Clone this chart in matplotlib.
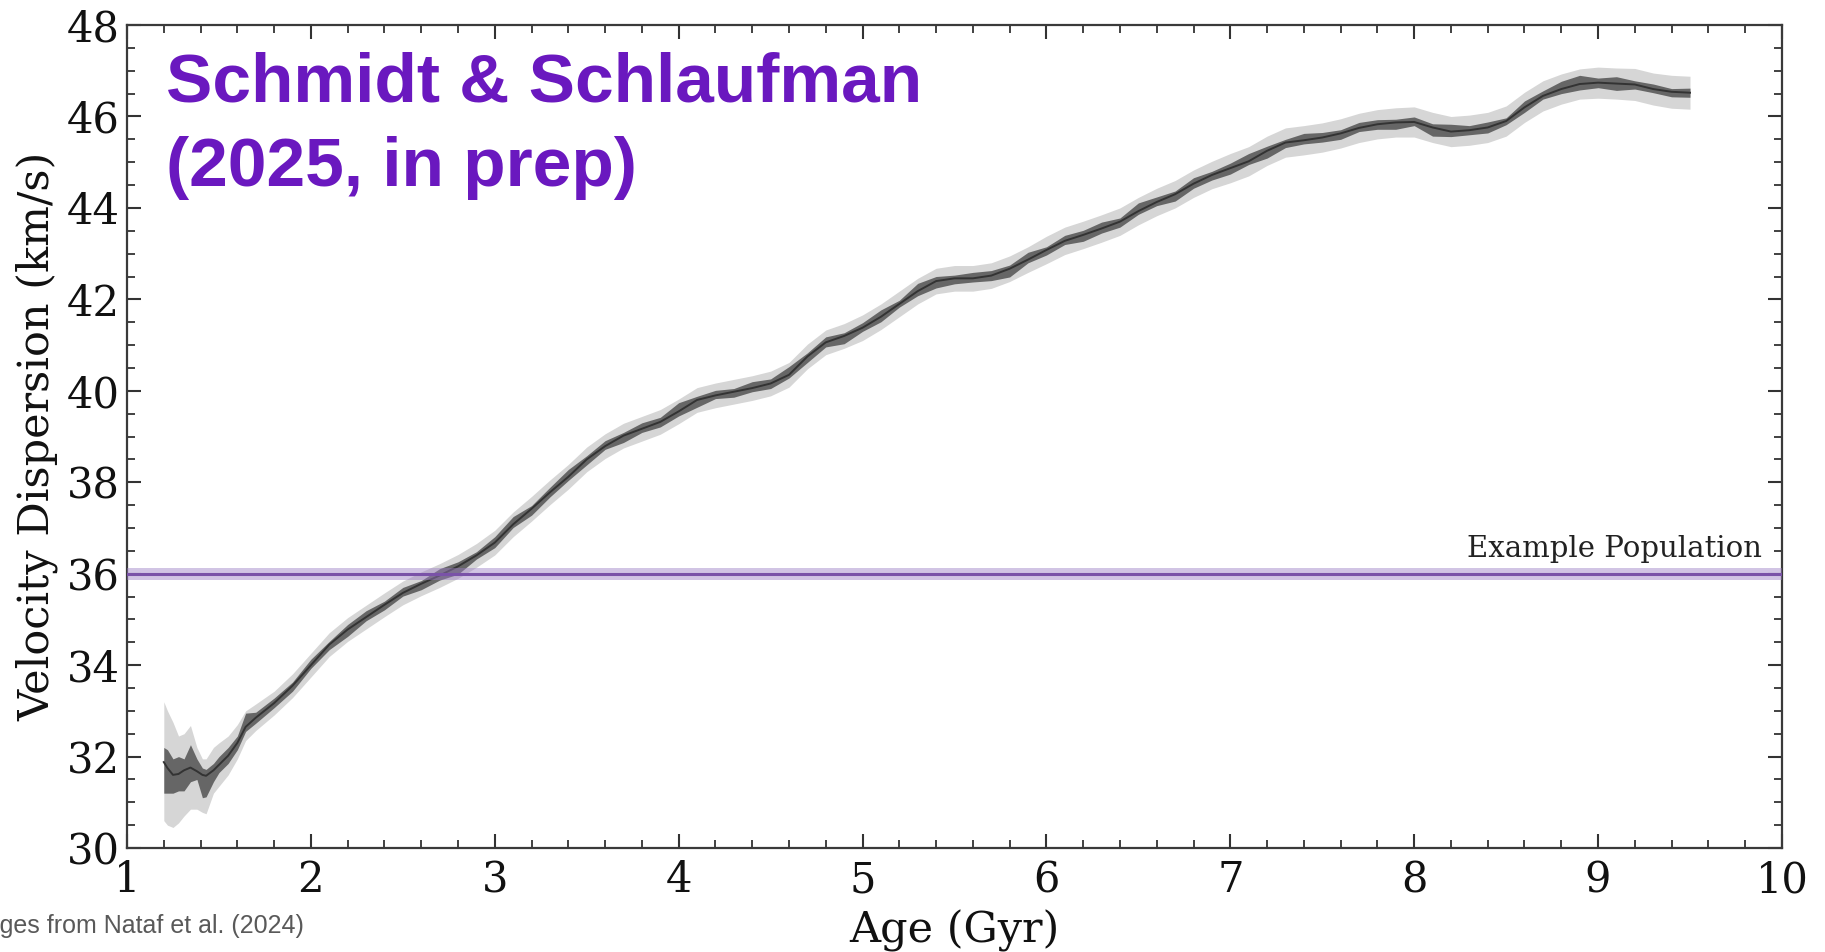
import matplotlib
matplotlib.use("Agg")
import numpy as np
import matplotlib.pyplot as plt
from matplotlib.ticker import MultipleLocator

# age grid (Gyr) and the smoothed velocity dispersion (km/s)
age = [1.20, 1.22, 1.25, 1.28, 1.31, 1.345, 1.38, 1.41, 1.43, 1.47, 1.50, 1.55, 1.60, 1.645, 1.70,
       1.8, 1.9, 2.0, 2.1, 2.2, 2.3, 2.4, 2.5, 2.6, 2.7, 2.8, 2.9, 3.0, 3.1, 3.2, 3.3, 3.4, 3.5,
       3.6, 3.7, 3.8, 3.9, 4.0, 4.1, 4.2, 4.3, 4.4, 4.5, 4.6, 4.7, 4.8, 4.9, 5.0, 5.1, 5.2, 5.3,
       5.4, 5.5, 5.6, 5.7, 5.8, 5.9, 6.0, 6.1, 6.2, 6.3, 6.4, 6.5, 6.6, 6.7, 6.8, 6.9, 7.0, 7.1,
       7.2, 7.3, 7.4, 7.5, 7.6, 7.7, 7.8, 7.9, 8.0, 8.1, 8.2, 8.3, 8.4, 8.5, 8.6, 8.7, 8.8, 8.9,
       9.0, 9.1, 9.2, 9.3, 9.4, 9.5]
sigma = [31.88, 31.75, 31.60, 31.62, 31.70, 31.76, 31.68, 31.60, 31.58, 31.70, 31.82, 32.02, 32.30, 32.65, 32.85,
         33.17, 33.55, 34.00, 34.45, 34.78, 35.05, 35.32, 35.58, 35.78, 35.96, 36.16, 36.40, 36.68, 37.08,
         37.42, 37.78, 38.12, 38.50, 38.79, 39.02, 39.17, 39.32, 39.55, 39.80, 39.90, 39.98, 40.06, 40.16,
         40.35, 40.75, 41.06, 41.20, 41.38, 41.62, 41.90, 42.18, 42.40, 42.46, 42.46, 42.52, 42.67, 42.87,
         43.08, 43.28, 43.41, 43.55, 43.70, 43.93, 44.13, 44.30, 44.53, 44.72, 44.87, 45.02, 45.25, 45.43,
         45.48, 45.54, 45.63, 45.75, 45.83, 45.87, 45.88, 45.76, 45.67, 45.70, 45.76, 45.90, 46.20, 46.45,
         46.60, 46.71, 46.74, 46.72, 46.70, 46.60, 46.54, 46.52]

# running estimate scatter (dark band), offsets above / below the smooth curve
dark_up = [0.32, 0.40, 0.35, 0.38, 0.25, 0.50, 0.27, 0.15, 0.14, 0.15, 0.18, 0.18, 0.15, 0.30, 0.12,
           .11, .08, .13, .07, .11, .14, .08, .12, .07, .15, .10, .08, .13, .17, .07, .11, .16, .08, .12, .07,
           .13, .10, .19, .08, .11, .07, .14, .10, .18, .08, .12, .07, .11, .15, .08, .17, .10, .07, .13, .11,
           .08, .16, .07, .12, .10, .14, .08, .18, .11, .07, .13, .08, .11, .17, .10, .07, .15, .11, .08, .12,
           .10, .07, .11, .08, .16, .10, .12, .07, .14, .11, .17, .19, .10, .15, .08, .11, .07, .10]
dark_dn = [0.68, 0.55, 0.40, 0.37, 0.45, 0.31, 0.18, 0.50, 0.46, 0.25, 0.17, 0.17, 0.15, 0.10, 0.12,
           .10, .12, .07, .11, .15, .08, .11, .07, .13, .10, .17, .08, .11, .07, .14, .10, .08, .12, .07, .15,
           .08, .11, .10, .16, .07, .12, .08, .11, .07, .13, .10, .17, .08, .11, .07, .10, .15, .12, .08, .11,
           .18, .07, .11, .08, .14, .10, .12, .07, .08, .15, .10, .11, .13, .07, .16, .11, .08, .10, .13, .08,
           .11, .15, .08, .19, .11, .10, .12, .08, .11, .07, .10, .13, .11, .15, .10, .08, .11, .10]

# uncertainty envelope (light band), offsets above / below
light_up = [1.32, 1.25, 1.15, 0.83, 0.80, 0.92, 0.52, 0.35, 0.37, 0.50, 0.48, 0.43, 0.40, 0.35, 0.30,
            .26, .26, .26, .26, .26, .26, .26, .26, .26, .26, .26, .26,
            .27, .27, .27, .27, .27, .27, .27, .27, .27, .27, .27, .27, .27, .27, .27, .27, .27, .27, .27, .27,
            .28, .28, .28, .28, .28, .28, .28, .28, .28, .28,
            .30, .30, .30, .30, .30, .30, .30, .30, .30, .30,
            .32, .32, .32, .32, .32, .32, .32, .32, .32, .32,
            .33, .33, .33, .33, .33, .33, .33, .33, .33, .33,
            .34, .34, .35, .35, .36, .36]
light_dn = [1.28, 1.25, 1.15, 1.07, 1.00, 0.91, 0.83, 0.82, 0.83, 0.50, 0.47, 0.42, 0.35, 0.30, 0.28] + light_up[15:]

pop_sigma = 36.0
pop_err = 0.13

age = np.array(age); sigma = np.array(sigma)
dark_up = np.array(dark_up); dark_dn = np.array(dark_dn)
light_up = np.array(light_up); light_dn = np.array(light_dn)

plt.rcParams["font.family"] = "DejaVu Serif"
fig = plt.figure(figsize=(18.25, 9.52), dpi=100)
ax = fig.add_axes([0.0696, 0.1092, 0.9068, 0.8645])

ax.fill_between(age, sigma - light_dn, sigma + light_up, color="#d6d6d6", lw=0, zorder=1)
ax.fill_between(age, sigma - dark_dn, sigma + dark_up, color="#666666", lw=0, zorder=2)
ax.plot(age, sigma, color="#333333", lw=1.4, zorder=3)

ax.axhspan(pop_sigma - pop_err, pop_sigma + pop_err, color="#9b7cc4", alpha=0.45, lw=0, zorder=4)
ax.axhline(pop_sigma, color="#7a52a8", lw=2.2, zorder=5)
ax.text(9.89, pop_sigma + 0.36, "Example Population", ha="right", va="baseline",
        fontsize=21, color="#222222")

ax.set_xlim(1, 10); ax.set_ylim(30, 48)
ax.xaxis.set_major_locator(MultipleLocator(1)); ax.xaxis.set_minor_locator(MultipleLocator(0.2))
ax.yaxis.set_major_locator(MultipleLocator(2)); ax.yaxis.set_minor_locator(MultipleLocator(0.5))
ax.tick_params(which="both", direction="in", top=True, right=True, color="#333333",
               labelsize=30, labelcolor="#111111")
ax.tick_params(which="major", length=10, width=1.5)
ax.tick_params(which="minor", length=6, width=1.3)
ax.tick_params(axis="x", pad=8)
ax.tick_params(axis="y", pad=5)
for s in ax.spines.values():
    s.set_color("#3a3a3a"); s.set_linewidth(1.6)
ax.set_xlabel("Age (Gyr)", fontsize=31, color="#111111", labelpad=6)
ax.set_ylabel("Velocity Dispersion (km/s)", fontsize=31, color="#111111", labelpad=6)

fig.text(166 / 1825, 1 - 102 / 952, "Schmidt & Schlaufman", fontsize=50, fontweight="bold",
         family="Liberation Sans", color="#6a18bf", va="baseline")
fig.text(166 / 1825, 1 - 186 / 952, "(2025, in prep)", fontsize=50, fontweight="bold",
         family="Liberation Sans", color="#6a18bf", va="baseline")
# source note runs off the left edge, as in the original slide
fig.text(-17 / 1825, 1 - 933 / 952, "Ages from Nataf et al. (2024)", fontsize=18,
         family="Liberation Sans", color="#595959", va="baseline")

fig.savefig("out.png", dpi=100)
